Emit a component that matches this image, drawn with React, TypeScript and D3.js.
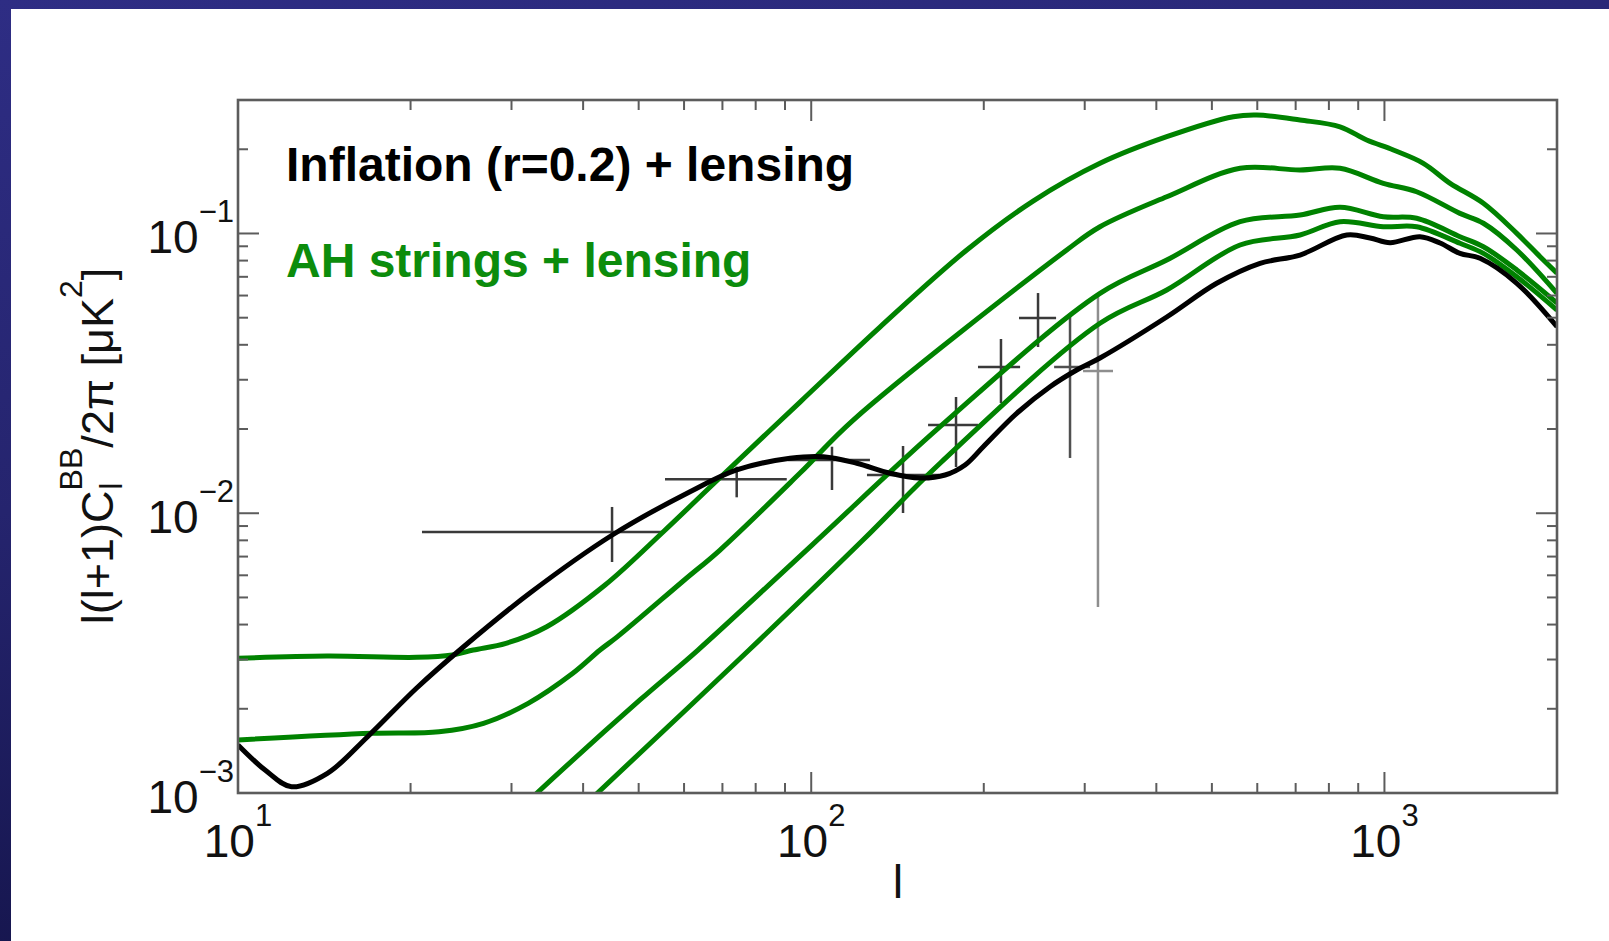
import React from "react";
import * as d3 from "d3";

type Pt = [number, number];

// axis domains and decade labels
const xDomain: [number, number] = [10, 2000];
const yDomain: [number, number] = [0.001, 0.3];
const xLabelDecades = [10, 100, 1000];
const xLabelExp = ["1", "2", "3"];
const yLabelDecades = [0.001, 0.01, 0.1];
const yLabelExp = ["\u22123", "\u22122", "\u22121"];

// Inflation (r=0.2) + lensing  (l, l(l+1)C_l/2pi)
const inflationLensing: Pt[] = [
  [10, 0.001485], [11.15, 0.001208], [12.4, 0.001053], [14.32, 0.001176], [16.83, 0.001589],
  [20.5, 0.002373], [24.72, 0.003325], [32.31, 0.005187], [44.98, 0.00836], [61.45, 0.01194],
  [74.13, 0.01428], [91.83, 0.01572], [105, 0.01593], [120.1, 0.01509], [137.3, 0.0139],
  [154.8, 0.01337], [171.2, 0.0137], [185.5, 0.01488], [199.6, 0.01729], [228.3, 0.02276],
  [261, 0.02833], [290.5, 0.03251], [319, 0.03588], [417.1, 0.05029], [509.8, 0.06636],
  [606.7, 0.07822], [712.4, 0.08375], [859.4, 0.09876], [943.8, 0.09636], [1022.8, 0.09268],
  [1153.4, 0.09739], [1250.2, 0.09247], [1354.5, 0.08492], [1468.3, 0.0815], [1701.7, 0.06636],
  [2000, 0.04642],
];

// AH strings + lensing, four string tensions
const strings1: Pt[] = [
  [10, 0.00303], [14.3, 0.003088], [20.5, 0.003055], [23.65, 0.003114], [25.73, 0.003244],
  [29.34, 0.003428], [34.56, 0.00393], [43.69, 0.00554], [55.21, 0.00859], [67.49, 0.01272],
  [95.61, 0.02497], [131.8, 0.0463], [186.8, 0.0873], [243.8, 0.1306], [319, 0.1782],
  [417.1, 0.2218], [545, 0.2615], [598.7, 0.2652], [712.4, 0.2544], [836.6, 0.2407],
  [931.2, 0.2158], [1036.3, 0.1988], [1169, 0.1782], [1302, 0.1511], [1488, 0.1282],
  [1701.7, 0.1001], [1868.5, 0.08261], [2000, 0.07207],
];
const strings2: Pt[] = [
  [10, 0.001547], [17.13, 0.001634], [22.42, 0.001655], [26.81, 0.001774], [32.08, 0.002092],
  [38.38, 0.002679], [42.81, 0.003244], [45.93, 0.003621], [60.08, 0.005773], [69.32, 0.007388],
  [95.61, 0.01392], [118.4, 0.02154], [279.1, 0.0873], [319, 0.1057], [417.1, 0.1353],
  [559.9, 0.171], [712.4, 0.1686], [836.6, 0.171], [995.6, 0.1511], [1138, 0.141],
  [1354.5, 0.118], [1488, 0.1088], [1701.7, 0.0873], [2000, 0.0611],
];
const strings3: Pt[] = [
  [30, 0.00082], [33.23, 0.001], [50.26, 0.00215], [63.45, 0.003244], [100.3, 0.007697],
  [167.8, 0.02039], [319, 0.0611], [417.1, 0.08035], [559.9, 0.1102], [712.4, 0.1164],
  [836.6, 0.1241], [995.6, 0.1148], [1138, 0.1133], [1354.5, 0.09739], [1488, 0.08968],
  [1701.7, 0.07405], [2000, 0.05641],
];
const strings4: Pt[] = [
  [38, 0.00081], [42.38, 0.001], [77.9, 0.003244], [123.1, 0.008021], [167.8, 0.01509],
  [319, 0.04775], [417.1, 0.06281], [559.9, 0.09096], [712.4, 0.09876], [836.6, 0.1102],
  [995.6, 0.1057], [1138, 0.1057], [1354.5, 0.09224], [1488, 0.08492], [1701.7, 0.07007],
  [2000, 0.05326],
];

// measured band powers with error bars
const dataEll = [44.93, 74.13, 108.7, 144.6, 178.9, 214.3, 248.7, 282.8, 316.4];
const dataEllLo = [20.94, 55.58, 91.09, 125.1, 159.9, 195.4, 230.4, 265.3, 298.0];
const dataEllHi = [55.13, 90.64, 126.6, 167.1, 195.4, 231.4, 267.4, 306.5, 336.1];
const dataVal = [0.00857, 0.01322, 0.0155, 0.0137, 0.02067, 0.03332, 0.04988, 0.03332, 0.03224];
const dataValLo = [0.006695, 0.0114, 0.01211, 0.01002, 0.01463, 0.02477, 0.03928, 0.01576, 0.004622];
const dataValHi = [0.01053, 0.01467, 0.01729, 0.01739, 0.02603, 0.04196, 0.06125, 0.05029, 0.06125];

const legendBlack = "Inflation (r=0.2) + lensing";
const legendGreen = "AH strings + lensing";

const W = 1609;
const H = 941;
const GREEN = "#008200";
const FONT = "'Liberation Sans', Arial, Helvetica, sans-serif";

export default function App() {
  React.useEffect(() => {
    document.body.style.margin = "0";
    document.documentElement.style.overflow = "hidden";
  }, []);

  const m = { left: 238, right: 1557, top: 100, bottom: 793 };
  const x = d3.scaleLog().domain(xDomain).range([m.left, m.right]);
  const y = d3.scaleLog().domain(yDomain).range([m.bottom, m.top]);
  const line = d3
    .line<Pt>()
    .x((d) => x(d[0]))
    .y((d) => y(d[1]))
    .curve(d3.curveCatmullRom.alpha(0.5));

  const isDecade = (v: number) => Math.abs(Math.log10(v) - Math.round(Math.log10(v))) < 1e-6;
  const xt = x.ticks(20).filter((v) => v >= xDomain[0] && v <= xDomain[1]);
  const yt = y.ticks(20).filter((v) => v >= yDomain[0] && v <= yDomain[1]);
  const frameColor = "#5c5c5c";
  const errColor = (i: number) => (i === 8 ? "#8e8e8e" : i === 7 ? "#505050" : "#3a3a3a");

  return (
    <div style={{ position: "absolute", left: 0, top: 0, width: W, height: H }}>
      <svg width={W} height={H} style={{ display: "block" }} fontFamily={FONT}>
        <defs>
          <linearGradient id="bg" x1="0" y1="0" x2="0.3" y2="1">
            <stop offset="0" stopColor="#2e2d84" />
            <stop offset="0.5" stopColor="#25246e" />
            <stop offset="1" stopColor="#14144a" />
          </linearGradient>
          <clipPath id="plot">
            <rect x={m.left} y={m.top} width={m.right - m.left} height={m.bottom - m.top} />
          </clipPath>
        </defs>
        <rect x={0} y={0} width={W} height={H} fill="url(#bg)" />
        <rect x={11} y={9} width={W - 11} height={H - 9} fill="#ffffff" />

        {/* error bars */}
        <g>
          {dataEll.map((l, i) => (
            <g key={i} stroke={errColor(i)} strokeWidth={2.5}>
              <line x1={x(dataEllLo[i])} x2={x(dataEllHi[i])} y1={y(dataVal[i])} y2={y(dataVal[i])} />
              <line x1={x(l)} x2={x(l)} y1={y(dataValLo[i])} y2={y(dataValHi[i])} />
            </g>
          ))}
        </g>

        {/* curves */}
        <g clipPath="url(#plot)" fill="none" strokeWidth={5} strokeLinejoin="round">
          {[strings4, strings3, strings2, strings1].map((s, i) => (
            <path key={i} d={line(s) || ""} stroke={GREEN} />
          ))}
          <path d={line(inflationLensing) || ""} stroke="#000" />
        </g>

        {/* frame */}
        <rect
          x={m.left}
          y={m.top}
          width={m.right - m.left}
          height={m.bottom - m.top}
          fill="none"
          stroke={frameColor}
          strokeWidth={2.6}
        />
        {/* ticks on all four sides */}
        <g stroke={frameColor} strokeWidth={2}>
          {xt.map((v, i) => {
            const len = isDecade(v) ? 21 : 10;
            const px = x(v);
            return (
              <g key={i}>
                <line x1={px} x2={px} y1={m.bottom} y2={m.bottom - len} />
                <line x1={px} x2={px} y1={m.top} y2={m.top + len} />
              </g>
            );
          })}
          {yt.map((v, i) => {
            const len = isDecade(v) ? 21 : 10;
            const py = y(v);
            return (
              <g key={i}>
                <line x1={m.left} x2={m.left + len} y1={py} y2={py} />
                <line x1={m.right} x2={m.right - len} y1={py} y2={py} />
              </g>
            );
          })}
        </g>

        {/* tick labels */}
        <g fill="#111" fontSize={46}>
          {xLabelDecades.map((v, i) => (
            <text key={i} x={x(v)} y={857} textAnchor="middle">
              <tspan>10</tspan>
              <tspan fontSize={31} dy={-31}>{xLabelExp[i]}</tspan>
            </text>
          ))}
          {yLabelDecades.map((v, i) => (
            <text key={i} x={234} y={y(v) + 20} textAnchor="end">
              <tspan>10</tspan>
              <tspan fontSize={31} dy={-31}>{yLabelExp[i]}</tspan>
            </text>
          ))}
        </g>

        {/* axis titles */}
        <text x={898} y={898} textAnchor="middle" fontSize={47} fill="#111">l</text>
        <text transform="translate(113,446) rotate(-90)" textAnchor="middle" fontSize={45} fill="#111">
          <tspan>l(l+1)C</tspan>
          <tspan fontSize={32} dy={-31}>BB</tspan>
          <tspan fontSize={32} dx={-42} dy={40}>l</tspan>
          <tspan dx={35} dy={-9}>/2π [μK</tspan>
          <tspan fontSize={32} dy={-31}>2</tspan>
          <tspan dy={31}>]</tspan>
        </text>

        {/* legend */}
        <text x={286} y={181} fontSize={48} fontWeight="bold" fill="#000">{legendBlack}</text>
        <text x={286} y={277} fontSize={48} fontWeight="bold" fill="#0c8c0c">{legendGreen}</text>
      </svg>
    </div>
  );
}
